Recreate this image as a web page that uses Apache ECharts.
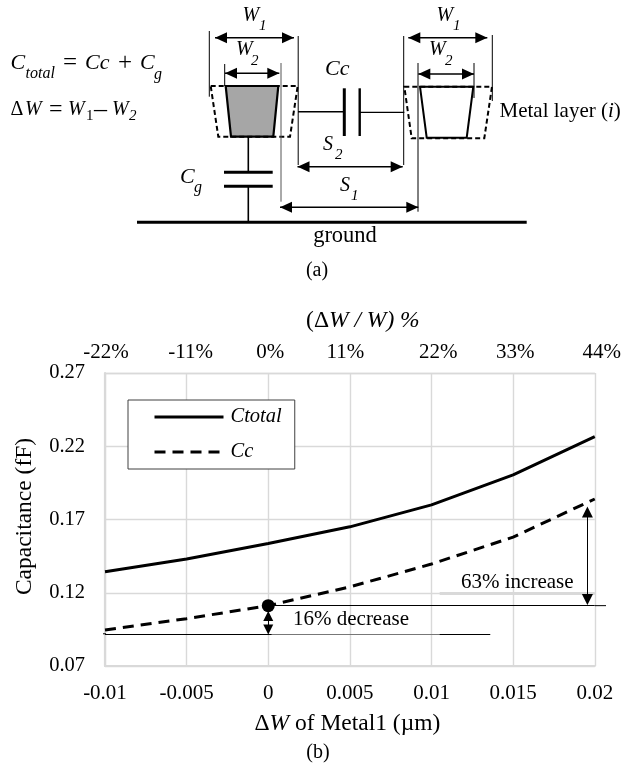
<!DOCTYPE html>
<html><head><meta charset="utf-8">
<style>html,body{margin:0;padding:0;background:#fff}#c{width:624px;height:768px}</style>
<script src="https://cdn.jsdelivr.net/npm/echarts@6/dist/echarts.min.js"></script>
</head><body><div id="c"></div>
<script>
const deltaW = [-0.01, -0.005, 0, 0.005, 0.01, 0.015, 0.02];
const ctotal = [0.1344, 0.143, 0.1536, 0.165, 0.18, 0.2004, 0.2265];
const cc = [0.0946, 0.1023, 0.1112, 0.124, 0.1396, 0.158, 0.184];
const yTicks = [0.07, 0.12, 0.17, 0.22, 0.27];
const xTickLabels = ['-0.01', '-0.005', '0', '0.005', '0.01', '0.015', '0.02'];
const topTickLabels = ['-22%', '-11%', '0%', '11%', '22%', '33%', '44%'];
const refPoint = [0, 0.1112];
const lowValue = 0.092;

const SERIF = '"Liberation Serif","Times New Roman",serif';
const FS = 21;
const NS = 23.5;
const chart = echarts.init(document.getElementById('c'), null, {renderer:'canvas'});

function line(x1,y1,x2,y2,w,dash,color){
  return {type:'line',z:50,silent:true,shape:{x1,y1,x2,y2},style:{stroke:color||'#000',lineWidth:w||1,lineDash:dash||null}};
}
function poly(points,fill,w,dash){
  return {type:'polygon',z:50,silent:true,shape:{points},style:{fill:fill||'none',stroke:'#000',lineWidth:w||2,lineDash:dash||null}};
}
function head(x,y,dir){ // tip at x,y
  const l=12,h=5.5;
  const p = dir==='l'?[[x,y],[x+l,y-h],[x+l,y+h]]:[[x,y],[x-l,y-h],[x-l,y+h]];
  return {type:'polygon',z:51,silent:true,shape:{points:p},style:{fill:'#000'}};
}
function dim(x1,x2,y){ return [line(x1,y,x2,y,1.4),head(x1,y,'l'),head(x2,y,'r')]; }
function txt(x,y,text,size,opts){
  opts=opts||{};
  return {type:'text',z:52,silent:true,x,y,style:{text,fill:'#000',fontFamily:SERIF,fontSize:size,fontStyle:opts.italic?'italic':'normal',
    align:opts.align||'left',verticalAlign:'middle',rich:opts.rich}};
}
const it={italic:true};
const diagram = [
  // formulas
  txt(10.5,63,'C',22,it),txt(25.5,74,'total',16,it),txt(63,63,'=',25),txt(85,63,'Cc',22,it),txt(118,63,'+',25),txt(140,63,'C',22,it),txt(154,75,'g',16,it),
  txt(10.5,110,'Δ',20),txt(25,110,'W',20,it),txt(49,110,'=',24),txt(68,110,'W',20,it),txt(86,116,'1',15),txt(94,110,'–',26),txt(112,110,'W',20,it),txt(129,116,'2',15,it),
  // left wire
  poly([[225.7,86],[278.3,86],[273.3,136.7],[231,136.7]],'#a6a6a6',2.2),
  poly([[210.7,86],[297.7,86],[290,136.7],[218.3,136.7]],null,2,[5,3]),
  line(209.3,31,209.3,96.7,1),line(298.2,36,298.2,165,1),line(224.7,64,224.7,86,1),line(281,63,281,201.7,1,null,'#555'),
  ...dim(215,294,37.7),...dim(225,279.3,73.3),
  txt(242.5,16,'W',20,it),txt(259,26,'1',15,it),
  txt(236,50,'W',20,it),txt(251,61,'2',15,it),
  line(248.3,136.7,248.3,172,1.6),line(248.3,186,248.3,222,1.6),
  line(224,172.3,272.7,172.3,3),line(224,186.3,272.7,186.3,3),
  txt(180,177,'C',22,it),txt(194,188,'g',16,it),
  line(137,222.3,526.7,222.3,3),
  // coupling capacitor
  line(298,111.7,344,111.7,1.6),line(344.3,88.3,344.3,136,3),line(359.7,88.3,359.7,136,2.4),line(360,112.3,404.3,112.3,1.2),
  txt(325,69.3,'Cc',22,it),
  // right wire
  poly([[420,86.7],[473.3,86.7],[466.7,137.7],[426.7,137.7]],null,2),
  poly([[404.3,86.7],[492,86.7],[484.3,138.3],[411.7,138.3]],null,2,[5,3]),
  line(403.7,36,403.7,165,1),line(492.3,35,492.3,101,1),line(418,63,418,211.7,1),line(474,63,474,98,1),
  ...dim(408.3,487.3,37.7),...dim(418.3,474,74),
  txt(436.5,16,'W',20,it),txt(453,26,'1',15,it),
  txt(429,50,'W',20,it),txt(445,61,'2',15,it),
  txt(499.5,111.7,'{n|Metal layer (}{i|i}{n|)}',21,{rich:{n:{fontFamily:SERIF,fontSize:21,fill:'#000'},i:{fontFamily:SERIF,fontSize:21,fontStyle:'italic',fill:'#000'}}}),
  // spacing
  ...dim(297.5,402.7,166.7),...dim(280,418.3,207.3),
  txt(323,145,'S',20,it),txt(335,155,'2',15,it),
  txt(340,186,'S',20,it),txt(351,196,'1',15,it),
  txt(345,236.5,'ground',22.5,{align:'center'}),
  txt(317,270.5,'(a)',20,{align:'center'}),
  txt(318,753,'(b)',20,{align:'center'}),
  // annotations
  txt(517.3,582.7,'63% increase',21,{align:'center'}),
  txt(351,619.3,'16% decrease',21,{align:'center'}),
];

const topShift=[1,4,2,-4.5,6.7,2,7];
const labelRich={};
topShift.forEach((s,i)=>{ labelRich['t'+i]=s>=0?{fontFamily:SERIF,fontSize:FS,color:'#000',padding:[0,0,0,2*s]}:{fontFamily:SERIF,fontSize:FS,color:'#000',padding:[0,-2*s,0,0]}; });
const nameRich={n:{fontFamily:SERIF,fontSize:NS,color:'#000'},i:{fontFamily:SERIF,fontSize:NS,fontStyle:'italic',color:'#000'}};
const grey='#d9d9d9';
const thin={color:'#000',width:1,type:'solid'};
chart.setOption({
  animation:false,
  backgroundColor:'#fff',
  textStyle:{fontFamily:SERIF},
  grid:{left:105,right:28.3,top:373,bottom:102,containLabel:false},
  legend:{
    left:128,top:400,orient:'vertical',padding:[7,13,7,25],itemWidth:69,itemHeight:20,itemGap:15,
    itemStyle:{color:'transparent',opacity:0,borderWidth:0},
    lineStyle:{width:3},
    backgroundColor:'#fff',borderColor:'#404040',borderWidth:1,borderRadius:0,z:20,
    textStyle:{fontFamily:SERIF,fontSize:20.5,fontStyle:'italic',color:'#000',padding:[0,0,0,2]},
    data:['Ctotal','Cc']
  },
  xAxis:[
    {type:'value',position:'bottom',min:-0.01,max:0.02,interval:0.005,
     axisLine:{onZero:false,show:true,lineStyle:{color:grey,width:2.2}},axisTick:{show:false},
     splitLine:{show:true,lineStyle:{color:grey,width:1.4}},
     axisLabel:{margin:16.5,fontFamily:SERIF,fontSize:FS,color:'#000',showMinLabel:true,showMaxLabel:true,
       formatter:(v)=>{const i=Math.round((v+0.01)/0.005);return xTickLabels[i];}},
     name:'{n|Δ}{i|W}{n| of Metal1 (µm)}',nameLocation:'middle',nameGap:46,nameTextStyle:{rich:nameRich,padding:[0,5,0,0]}},
    {type:'value',position:'top',min:-22,max:44,interval:11,
     axisLine:{onZero:false,show:true,lineStyle:{color:grey,width:1.4}},axisTick:{show:false},splitLine:{show:false},
     axisLabel:{margin:10,showMinLabel:true,showMaxLabel:true,
       formatter:(v)=>{const i=Math.round((v+22)/11);return '{t'+i+'|'+topTickLabels[i]+'}';},rich:labelRich},
     name:'{n|(Δ}{i|W / W) %}',nameLocation:'middle',nameGap:40,nameTextStyle:{rich:nameRich,padding:[0,0,0,26]}}
  ],
  yAxis:{type:'value',min:0.07,max:0.27,
     axisLine:{onZero:false,show:true,lineStyle:{color:grey,width:2.2}},
     splitLine:{show:true,lineStyle:{color:grey,width:1.4}},
     axisLabel:{margin:20,fontFamily:SERIF,fontSize:20.5,color:'#000',customValues:yTicks,formatter:(v)=>v.toFixed(2)},
     axisTick:{show:false,customValues:yTicks},
     name:'Capacitance (fF)',nameLocation:'middle',nameGap:68,nameTextStyle:{fontFamily:SERIF,fontSize:NS,color:'#000',padding:[0,0,0,6]}},
  series:[
    {name:'Ctotal',type:'line',symbol:'none',data:deltaW.map((x,i)=>[x,ctotal[i]]),lineStyle:{color:'#000',width:3},itemStyle:{color:'#000'}},
    {name:'Cc',type:'line',symbol:'none',data:deltaW.map((x,i)=>[x,cc[i]]),lineStyle:{color:'#000',width:3,type:[11,7]},itemStyle:{color:'#000'},
     markPoint:{silent:true,symbol:'circle',symbolSize:13,itemStyle:{color:'#000'},label:{show:false},data:[{coord:refPoint}]},
     markLine:{silent:true,symbol:'none',animation:false,label:{show:false},lineStyle:thin,data:[
       [{coord:[0.0105,0.12],lineStyle:{color:'#d9d9d9',width:3,type:'solid'}},{coord:[0.02,0.12]}],
       [{coord:[refPoint[0],refPoint[1]]},{coord:[0.02,refPoint[1]]}],
       [{coord:[-0.01,lowValue]},{coord:[0.0136,lowValue]}],
       [{coord:[0.0002,lowValue],lineStyle:{color:'#777',width:1.2,type:'solid'}},{coord:[0.0105,lowValue]}],
       [{coord:[0.01955,0.1751],symbol:'triangle',symbolSize:11},{coord:[0.01955,0.1154],symbol:'triangle',symbolSize:11}],
       [{coord:[0,0.1041],symbol:'triangle',symbolSize:10},{coord:[0,0.0949],symbol:'triangle',symbolSize:10}]
     ]}}
  ],
  graphic:{elements:diagram}
});
// short stubs where the two reference lines run past the plot frame
const upY=chart.convertToPixel({yAxisIndex:0},refPoint[1]);
const loY=chart.convertToPixel({yAxisIndex:0},lowValue);
chart.setOption({graphic:{elements:diagram.concat([line(595,upY,606,upY,1),line(103,loY,106,loY,1)])}});
</script></body></html>
